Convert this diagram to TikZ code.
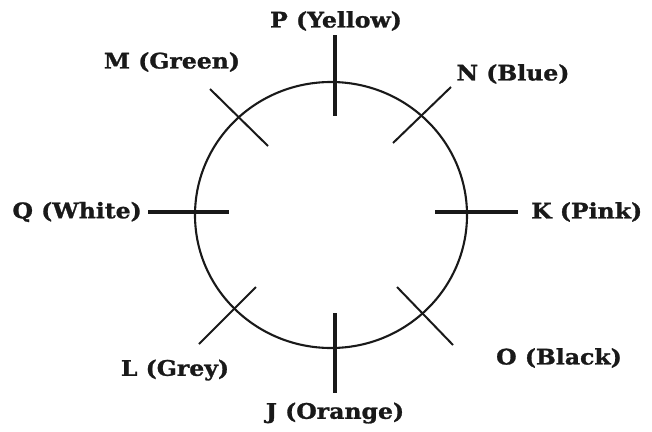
\documentclass[tikz,border=0pt]{standalone}
\usepackage{fontspec}
\setmainfont{DejaVu Serif}[FakeStretch=1.1,BoldFeatures={FakeBold=1.2}]
\usetikzlibrary{positioning}

\begin{document}
\begin{tikzpicture}[x=1pt,y=-1pt,
    lbl/.style={font=\bfseries\fontsize{21.4}{21.4}\selectfont,text=black!90,inner sep=0pt},
    thickmark/.style={draw=black!90,line width=3.6pt},
    thinmark/.style={draw=black!90,line width=2pt}]
\useasboundingbox (0,0) rectangle (652,431);
%
\draw[black!90,line width=2.1pt] (331,215) ellipse [x radius=136,y radius=133];

%
\coordinate (p1) at (335,35);   \coordinate (p2) at (335,116);
\coordinate (j1) at (335,313);  \coordinate (j2) at (335,393);
\coordinate (q1) at (148,212);  \coordinate (q2) at (229,212);
\coordinate (k1) at (435,212);  \coordinate (k2) at (518,212);
\coordinate (m1) at (210,89);   \coordinate (m2) at (268,146);
\coordinate (n1) at (451,87);   \coordinate (n2) at (393,143);
\coordinate (l1) at (256,287);  \coordinate (l2) at (199,344);
\coordinate (o1) at (397,287);  \coordinate (o2) at (453,345);

\draw[thickmark] (p1)--(p2);
\draw[thickmark] (j1)--(j2);
\draw[thickmark] (q1)--(q2);
\draw[thickmark] (k1)--(k2);
\draw[thinmark] (m1)--(m2);
\draw[thinmark] (n1)--(n2);
\draw[thinmark] (l1)--(l2);
\draw[thinmark] (o1)--(o2);

%
\node[lbl] (P) at (336,21) {P (Yellow)};
\node[lbl] (M) at (172,62) {M (Green)};
\node[lbl] (N) at (513,74) {N (Blue)};
\node[lbl,anchor=east] (Q) at (142,212) {Q (White)};
\node[lbl,anchor=west] (K) at (531,212) {K (Pink)};
\node[lbl] (L) at (175,370) {L (Grey)};
\node[lbl] (J) at (335,413) {J (Orange)};
\node[lbl] (O) at (559,358) {O (Black)};
\end{tikzpicture}
\end{document}
